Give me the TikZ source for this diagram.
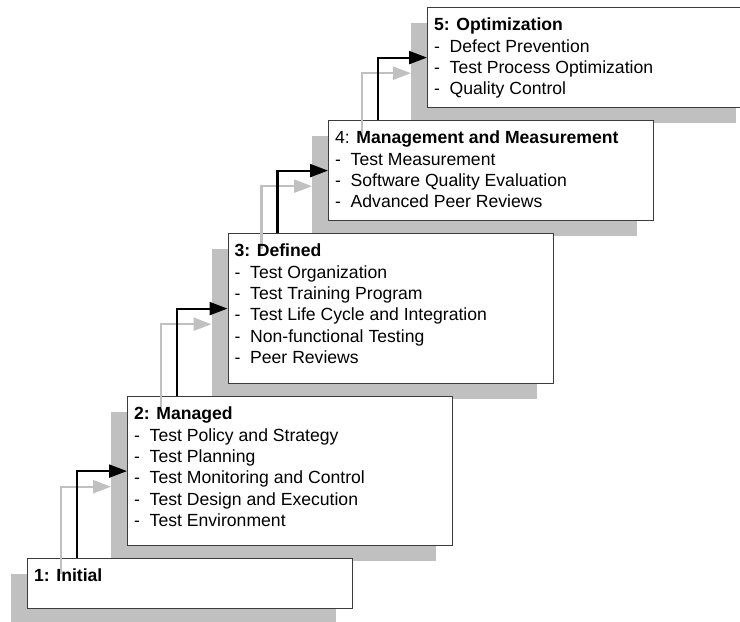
\documentclass[tikz,border=0pt]{standalone}
\usepackage{fontspec}
\setmainfont{Liberation Sans}
\usetikzlibrary{arrows.meta,calc}
\definecolor{shadowgray}{RGB}{192,192,192}
\definecolor{framegray}{RGB}{60,60,60}
\newcommand{\itm}[1]{\makebox[15.5pt][l]{-}#1}

\begin{document}
\begin{tikzpicture}[x=1pt,y=-1pt,>={Triangle[length=18pt,width=13pt]},
  level/.style={draw=framegray,line width=1.2pt,fill=white,anchor=north west,minimum width=325pt,inner sep=0pt},
  shade/.style={fill=shadowgray,anchor=north west,minimum width=325pt,inner sep=0pt},
  levtext/.style={anchor=north west,inner sep=0pt,align=left,font=\fontsize{17.6pt}{21.3pt}\selectfont},
  up/.style={->,line width=2.2pt}]
\useasboundingbox (0,0) rectangle (740,622);
% boxes, top level first so lower ones lie over the shadows
\node[shade,minimum height=100pt] (s5) at (411,23) {};
\node[level,minimum height=100pt] (b5) at (427,7) {};
\node[shade,minimum height=100pt] (s4) at (312,136) {};
\node[level,minimum height=100pt] (b4) at (328,120) {};
\node[shade,minimum height=150pt] (s3) at (211.5,249) {};
\node[level,minimum height=150pt] (b3) at (227.5,233) {};
\node[shade,minimum height=149pt] (s2) at (111,412) {};
\node[level,minimum height=149pt] (b2) at (127,396) {};
\node[shade,minimum height=50pt] (s1) at (11,574) {};
\node[level,minimum height=50pt] (b1) at (27,558) {};
% steps
\draw[up,shadowgray] ($(s1.north west)+(50,0)$) |- (s2.west);
\draw[up,black] ($(b1.north west)+(50,0)$) |- (b2.west);
\draw[up,shadowgray] ($(s2.north west)+(50,0)$) |- (s3.west);
\draw[up,black] ($(b2.north west)+(50,0)$) |- (b3.west);
\draw[up,shadowgray] ($(s3.north west)+(50,0)$) |- (s4.west);
\draw[up,black] ($(b3.north west)+(50,0)$) |- (b4.west);
\draw[up,shadowgray] ($(s4.north west)+(50,0)$) |- (s5.west);
\draw[up,black] ($(b4.north west)+(50,0)$) |- (b5.west);
% texts
\node[levtext] (t1) at ($(b1.north west)+(7,11)$) {\textbf{1: Initial}};
\node[levtext] (t2) at ($(b2.north west)+(7,11)$) {\textbf{2: Managed}\\
  \itm{Test Policy and Strategy}\\
  \itm{Test Planning}\\
  \itm{Test Monitoring and Control}\\
  \itm{Test Design and Execution}\\
  \itm{Test Environment}};
\node[levtext] (t3) at ($(b3.north west)+(7,11)$) {\textbf{3: Defined}\\
  \itm{Test Organization}\\
  \itm{Test Training Program}\\
  \itm{Test Life Cycle and Integration}\\
  \itm{Non-functional Testing}\\
  \itm{Peer Reviews}};
\node[levtext] (t4) at ($(b4.north west)+(7,11)$) {4: \textbf{Management and Measurement}\\
  \itm{Test Measurement}\\
  \itm{Software Quality Evaluation}\\
  \itm{Advanced Peer Reviews}};
\node[levtext] (t5) at ($(b5.north west)+(7,11)$) {\textbf{5: Optimization}\\
  \itm{Defect Prevention}\\
  \itm{Test Process Optimization}\\
  \itm{Quality Control}};
\end{tikzpicture}
\end{document}
